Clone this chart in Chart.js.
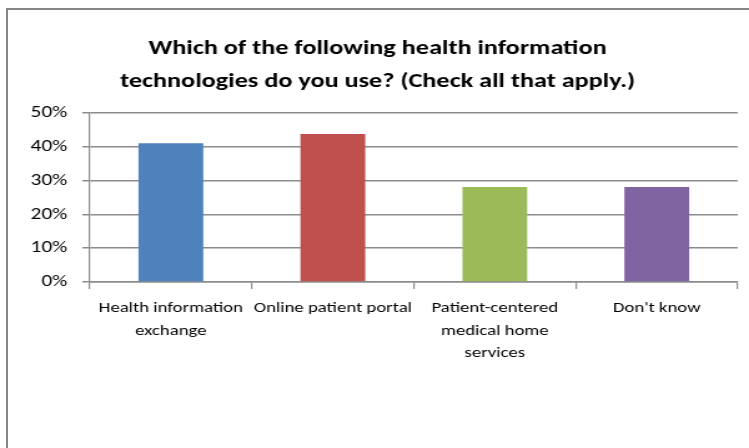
<!DOCTYPE html>
<html>
<head>
<meta charset="utf-8">
<script src="https://cdn.jsdelivr.net/npm/chart.js"></script>
<style>
  html, body { margin: 0; padding: 0; background: #fff; overflow: hidden; }
  #frame {
    position: absolute; left: 6px; top: 8px; width: 800px; height: 500px;
    border-left: 2px solid #868686; border-top: 2px solid #868686;
  }
  /* the original chart is stretched sideways, so draw narrow and widen it */
  #chart {
    position: absolute; left: 0; top: 0;
    transform: scaleX(1.24833); transform-origin: 0 0;
  }
</style>
</head>
<body>
<div id="frame"></div>
<canvas id="chart" width="600" height="448"></canvas>
<script>
const categories = [
  ['Health information', 'exchange'],
  'Online patient portal',
  ['Patient-centered', 'medical home', 'services'],
  "Don't know",
];
const usage = [41.0, 43.8, 28.1, 28.1];
const barColors = ['#4F81BD', '#C0504D', '#9BBB59', '#8064A2'];
const titleLines = [
  'Which of the following health information',
  'technologies do you use? (Check all that apply.)',
];

const fontFamily = 'Carlito, Lato, "Liberation Sans", sans-serif';
const gridColor = '#8c8c8c';

new Chart(document.getElementById('chart'), {
  type: 'bar',
  data: {
    labels: categories,
    datasets: [{
      data: usage,
      backgroundColor: barColors,
      borderWidth: 0,
      categoryPercentage: 1,
      barPercentage: 0.4,
    }],
  },
  options: {
    responsive: false,
    animation: false,
    devicePixelRatio: 1,
    layout: { padding: { left: 14, right: 9, top: 0, bottom: 0 } },
    plugins: {
      legend: { display: false },
      tooltip: { enabled: false },
      title: {
        display: true,
        text: titleLines,
        color: '#000',
        font: { family: fontFamily, size: 21, weight: 'bold', lineHeight: 1.57 },
        padding: { top: 32, bottom: 15 },
      },
    },
    scales: {
      x: {
        grid: {
          offset: true,
          drawOnChartArea: false,
          drawTicks: true,
          tickLength: 7,
          color: gridColor,
          lineWidth: 1.2,
        },
        border: { color: gridColor, width: 1.5 },
        ticks: {
          color: '#000',
          font: { family: fontFamily, size: 15, lineHeight: 1.5 },
          padding: 8,
          maxRotation: 0,
          autoSkip: false,
        },
        afterFit: s => { s.height = 166; },
      },
      y: {
        min: 0,
        max: 50,
        ticks: {
          stepSize: 10,
          color: '#000',
          font: { family: fontFamily, size: 17 },
          padding: 12,
          callback: v => v + '%',
        },
        grid: { color: gridColor, lineWidth: 1.5, tickLength: 6 },
        border: { color: gridColor, width: 1.2 },
        afterFit: s => { s.width = 58; },
      },
    },
  },
});
</script>
</body>
</html>
